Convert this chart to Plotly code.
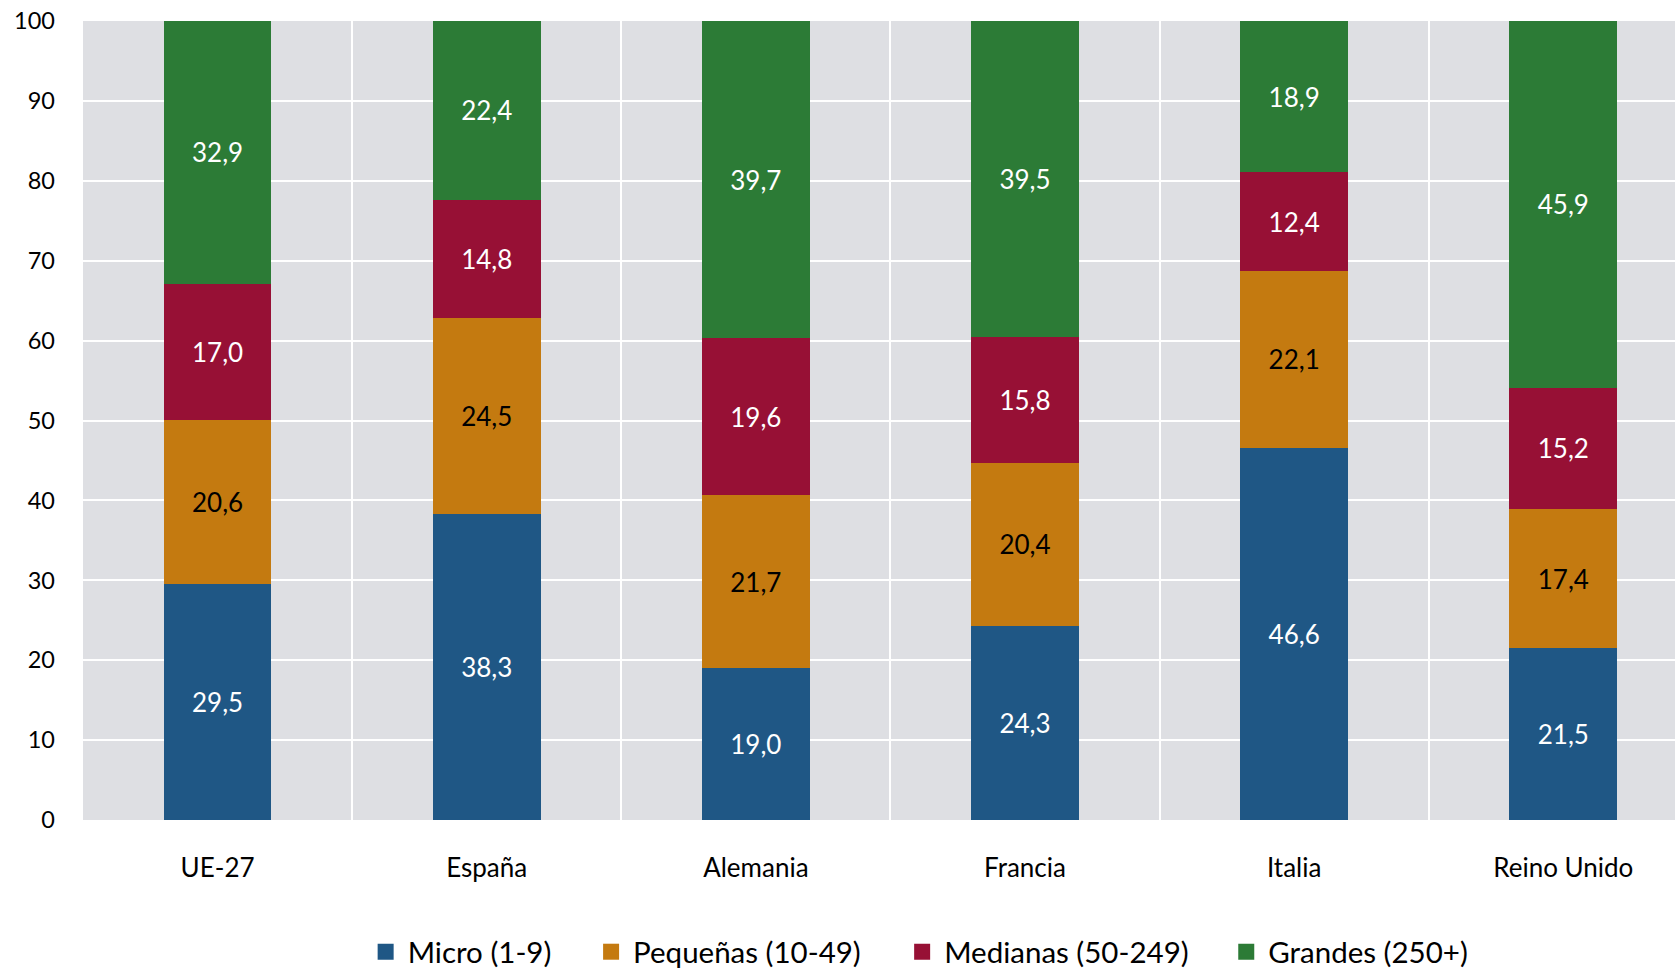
import plotly.graph_objects as go

categories = ["UE-27", "España", "Alemania", "Francia", "Italia", "Reino Unido"]
series_names = ["Micro (1-9)", "Pequeñas (10-49)", "Medianas (50-249)", "Grandes (250+)"]
micro = [29.5, 38.3, 19.0, 24.3, 46.6, 21.5]
pequenas = [20.6, 24.5, 21.7, 20.4, 22.1, 17.4]
medianas = [17.0, 14.8, 19.6, 15.8, 12.4, 15.2]
grandes = [32.9, 22.4, 39.7, 39.5, 18.9, 45.9]
y_ticks = [0, 10, 20, 30, 40, 50, 60, 70, 80, 90, 100]

colors = ["#1F5785", "#C47A10", "#971035", "#2C7B36"]
text_colors = ["white", "black", "white", "white"]
legend_ids = ["legend", "legend2", "legend3", "legend4"]
legend_x = [0.2171, 0.3517, 0.5374, 0.7309]
FONT = "Lato, 'Open Sans', sans-serif"

x_idx = list(range(len(categories)))
fig = go.Figure()
for name, vals, c, tc in zip(series_names, [micro, pequenas, medianas, grandes], colors, text_colors):
    fig.add_trace(go.Bar(
        x=x_idx, y=vals, name=name, marker=dict(color=c, line=dict(width=0)),
        width=0.4, texttemplate="%{y:.1f}", textposition="inside",
        insidetextanchor="middle", textangle=0, showlegend=False,
        textfont=dict(color=tc, size=26, family=FONT),
    ))

# legend entries (square swatches)
for name, c, lid in zip(series_names, colors, legend_ids):
    fig.add_trace(go.Scatter(
        x=[None], y=[None], mode="markers", name=name, legend=lid,
        marker=dict(symbol="square", size=16, color=c), showlegend=True,
    ))

# invisible trace on overlay axis for category separators
fig.add_trace(go.Scatter(x=[-0.5], y=[0], xaxis="x2", mode="markers",
                         marker=dict(opacity=0), showlegend=False, hoverinfo="skip"))

legend_common = dict(orientation="h", xref="container", yref="container",
                     y=0.0175, yanchor="middle", xanchor="left", itemwidth=34,
                     font=dict(size=29.5), bgcolor="rgba(0,0,0,0)")

xr = [-0.5, 5.415]
fig.update_layout(
    barmode="stack",
    width=1675, height=969,
    margin=dict(l=83, r=0, t=21, b=149),
    paper_bgcolor="white",
    plot_bgcolor="#DEDFE3",
    separators=",.",
    font=dict(family=FONT, size=22, color="black"),
    xaxis=dict(
        range=xr, tickvals=x_idx, ticktext=categories, showgrid=False,
        zeroline=False, showline=False, ticks="", ticklabelstandoff=30,
        tickfont=dict(size=26),
    ),
    xaxis2=dict(
        range=xr, overlaying="x", tickvals=[i + 0.5 for i in x_idx[:-1]],
        showgrid=True, gridcolor="white", gridwidth=2, showticklabels=False,
        zeroline=False, showline=False, ticks="",
    ),
    yaxis=dict(
        range=[0, 100], tickvals=y_ticks, showgrid=True, gridcolor="white",
        gridwidth=2, zeroline=False, showline=False, ticks="",
        ticklabelstandoff=27, tickfont=dict(size=23.5),
    ),
    legend=dict(x=legend_x[0], **legend_common),
    legend2=dict(x=legend_x[1], **legend_common),
    legend3=dict(x=legend_x[2], **legend_common),
    legend4=dict(x=legend_x[3], **legend_common),
    bargap=0.6,
)
fig.write_html("out.html", config={"displayModeBar": False},
               post_script="document.body.style.margin='0';")
